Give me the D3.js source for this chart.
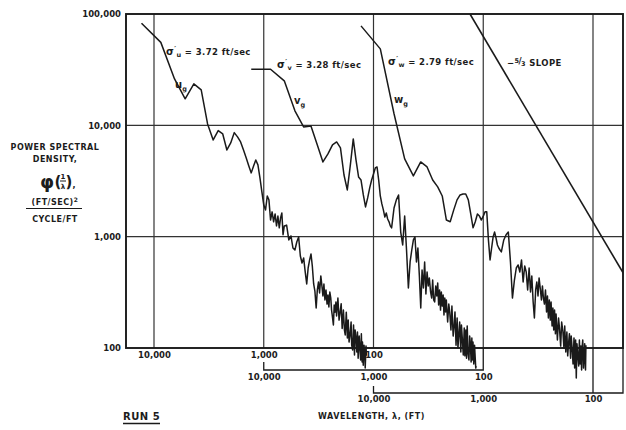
<!DOCTYPE html>
<html>
<head>
<meta charset="utf-8">
<script src="https://cdn.jsdelivr.net/npm/d3@7"></script>
<style>
  html, body { margin: 0; padding: 0; background: #ffffff; }
  svg { display: block; }
  text { font-family: "DejaVu Sans", "Liberation Sans", sans-serif; font-weight: bold; fill: #1c1c1c; }
</style>
</head>
<body>
<svg id="chart" width="626" height="430"></svg>
<script>
// Spectral estimates share one wavelength grid (ft); each gust component has its own abscissa,
// offset by one decade from the previous one.
const wavelengthFt = [
  13000, 8667, 6500, 5200, 4333, 3714, 3250, 2889, 2600, 2364,
  2167, 2000, 1857, 1733, 1625, 1529, 1444, 1368, 1300, 1238,
  1182, 1130, 1083, 1040, 1000, 963, 929, 897, 867, 839,
  813, 788, 765, 743, 722, 703, 684, 667, 650,
  619, 591, 565, 542, 520, 500, 481, 464, 448, 433,
  419, 406, 394, 382, 371, 361, 351, 342, 333, 325,
  317, 310, 302, 295, 289, 283, 277, 271, 265, 260,
  255, 250, 245, 241, 236, 232, 228, 224, 220, 217,
  211, 206, 202, 197, 193, 188, 184, 181, 177, 173,
  170, 167, 164, 160, 158, 155, 152, 149, 147, 144,
  142, 140, 138, 135, 133, 131, 129, 127, 126, 124,
  122, 120, 119, 117, 116
];

// Power spectral density, (ft/sec)^2 / (cycle/ft)
const psdU = [
  82700, 55600, 26100, 17300, 23600, 20800, 10300, 7390, 8960, 8370,
  6010, 6950, 8600, 7870, 7090, 6010, 5090, 4320, 3740, 4320,
  4890, 4410, 3370, 2520, 1930, 1740, 2320, 2140, 1410, 1670,
  1360, 1600, 1250, 1530, 1200, 1470, 1630, 1040, 1250,
  1270, 934, 1015, 791, 759, 896, 994, 671, 580, 644,
  482, 376, 523, 618, 699, 545, 376, 325, 229, 332,
  392, 312, 444, 360, 293, 376, 270, 332, 248, 299,
  234, 318, 280, 219, 186, 161, 243, 210, 259, 194,
  281, 178, 205, 250, 150, 219, 145, 131, 210, 123,
  178, 113, 128, 171, 106, 96, 161, 86.5, 145, 120,
  92, 139, 81, 128, 100, 78, 134, 75, 113, 70,
  106, 88, 66, 104, 85
];

const psdV = [
  31900, 31900, 25100, 13500, 9680, 9880, 6670, 4690, 5540, 6670,
  7090, 6270, 3580, 2630, 4410, 7550, 4890, 3440, 3230, 2370,
  1850, 2230, 2740, 3230, 3660, 4140, 4230, 3230, 2320, 1970,
  1740, 1500, 1630, 1440, 1360, 1250, 1200, 1470, 1810,
  2140, 2370, 1100, 842, 1530, 759, 346, 593, 759, 934,
  994, 593, 791, 444, 229, 502, 346, 593, 306, 482,
  361, 426, 320, 281, 408, 270, 259, 361, 293, 384,
  243, 332, 219, 318, 238, 299, 198, 281, 211, 270,
  171, 248, 210, 145, 238, 128, 160, 211, 106, 186,
  100, 130, 171, 92, 161, 120, 86.5, 151, 85, 145,
  81, 158, 92, 78, 128, 110, 75, 123, 78, 113,
  71.8, 106, 90, 66, 68.9
];

const psdW = [
  78200, 48600, 12700, 4990, 3510, 4690, 4230, 3230, 2800, 2320,
  1410, 1360, 1740, 2140, 2370, 2420, 2420, 2140, 1600, 1200,
  1360, 1600, 1530, 1410, 1530, 1670, 1670, 934, 618, 791,
  994, 1100, 973, 842, 791, 759, 729, 825, 934,
  1040, 1100, 593, 281, 408, 523, 557, 482, 618, 392,
  545, 482, 332, 523, 318, 444, 259, 186, 332, 392,
  293, 426, 340, 270, 361, 281, 248, 332, 211, 293,
  186, 270, 178, 259, 158, 229, 145, 219, 134, 202,
  118, 186, 150, 104, 171, 140, 100, 158, 92, 139,
  85, 110, 134, 81, 128, 100, 71.8, 123, 66, 118,
  53.8, 109, 90, 68.9, 118, 71.8, 104, 63.4, 98, 118,
  66, 88, 109, 63.4, 106
];

// Reference -5/3 power law, in the w-component wavelength units
const slopeWavelength = [1320, 50];
const slopePsd = [100000, 427];

const sigmaValues = ["3.72", "3.28", "2.79"];
const componentNames = ["u", "v", "w"];
const yTickValues = [100, 1000, 10000, 100000];
const xTickValues1 = [10000, 1000, 100];
const xTickValues2 = [10000, 1000, 100];
const xTickValues3 = [10000, 1000, 100];

// ---------------------------------------------------------------------------
const svg = d3.select("#chart");
const ink = "#1a1a1a";
const frame = { left: 126, right: 623, top: 14, bottom: 348 };

const y = d3.scaleLog().domain([100, 100000]).range([348, 14]);
const xU = d3.scaleLog().domain([1e4, 1]).range([154, 593]);
const xV = d3.scaleLog().domain([1e5, 10]).range([154, 593]);
const xW = d3.scaleLog().domain([1e6, 100]).range([154, 593]);
const fmt = d3.format(",");

// grid
const grid = svg.append("g").attr("stroke", "#333").attr("stroke-width", 1.2);
grid.selectAll("line.v").data([10000, 1000, 100, 10, 1]).join("line")
  .attr("x1", d => xU(d)).attr("x2", d => xU(d))
  .attr("y1", frame.top).attr("y2", frame.bottom);
grid.selectAll("line.h").data([1000, 10000]).join("line")
  .attr("x1", frame.left).attr("x2", frame.right)
  .attr("y1", d => y(d)).attr("y2", d => y(d));

// frame
svg.append("rect")
  .attr("x", frame.left).attr("y", frame.top)
  .attr("width", frame.right - frame.left).attr("height", frame.bottom - frame.top)
  .attr("fill", "none").attr("stroke", ink).attr("stroke-width", 1.9);

// y axis
const yAxis = svg.append("g").attr("transform", `translate(${frame.left},0)`)
  .call(d3.axisLeft(y).tickValues(yTickValues).tickFormat(fmt).tickSize(0).tickPadding(5));
yAxis.select(".domain").remove();
yAxis.selectAll("text").attr("font-size", 8.5).attr("font-family", null);

// x axes: three staggered scales
function xAxis(scale, ticks, yPos, pad) {
  const g = svg.append("g").attr("transform", `translate(0,${yPos})`)
    .call(d3.axisBottom(scale).tickValues(ticks).tickFormat(fmt).tickSize(0).tickPadding(pad));
  g.select(".domain").remove();
  g.selectAll("text").attr("font-size", 8.5).attr("font-family", null);
  return g;
}
xAxis(xU, xTickValues1, frame.bottom, 4);
xAxis(xV, xTickValues2, 370, 4);
xAxis(xW, xTickValues3, 393, 3);

const brackets = svg.append("g").attr("stroke", ink).attr("stroke-width", 1.3).attr("fill", "none");
// second axis bracket
brackets.append("path").attr("d",
  `M${xV(1e4)},362 V370 H${xV(100)} V${frame.bottom}`);
// third axis bracket
brackets.append("path").attr("d",
  `M${xW(1e4)},386 V393 H${frame.right} V${frame.bottom}`);
brackets.append("line")
  .attr("x1", xW(100)).attr("x2", xW(100)).attr("y1", frame.bottom).attr("y2", 393);

// spectra
const series = [
  { psd: psdU, x: xU },
  { psd: psdV, x: xV },
  { psd: psdW, x: xW }
];
series.forEach(s => {
  const pts = wavelengthFt.map((wl, i) => [s.x(wl), y(s.psd[i])]);
  svg.append("path")
    .attr("d", d3.line()(pts))
    .attr("fill", "none").attr("stroke", ink)
    .attr("stroke-width", 1.5).attr("stroke-linejoin", "round");
});

// -5/3 slope line, clipped to the frame
svg.append("clipPath").attr("id", "frameClip").append("rect")
  .attr("x", frame.left).attr("y", frame.top)
  .attr("width", frame.right - frame.left).attr("height", frame.bottom - frame.top);
svg.append("path")
  .attr("clip-path", "url(#frameClip)")
  .attr("d", d3.line()(slopeWavelength.map((wl, i) => [xW(wl), y(slopePsd[i])])))
  .attr("fill", "none").attr("stroke", ink).attr("stroke-width", 1.6);

// sigma annotations
function sigmaLabel(x, yb, sub, value) {
  const t = svg.append("text").attr("x", x).attr("y", yb).attr("font-size", 8.5).attr("letter-spacing", 0.4);
  t.append("tspan").attr("font-size", 10).text("σ");
  t.append("tspan").attr("font-size", 7).attr("dy", -4).text("′");
  t.append("tspan").attr("font-size", 6.5).attr("dy", 6).text(sub);
  t.append("tspan").attr("dy", -2).text(" = " + value + " ft/sec");
}
sigmaLabel(166, 55, componentNames[0], sigmaValues[0]);
sigmaLabel(277, 68, componentNames[1], sigmaValues[1]);
sigmaLabel(388, 65, componentNames[2], sigmaValues[2]);

function gustLabel(x, yb, name) {
  const t = svg.append("text").attr("x", x).attr("y", yb).attr("font-size", 10);
  t.append("tspan").text(name);
  t.append("tspan").attr("font-size", 6.5).attr("dy", 3).text("g");
}
gustLabel(175, 88, componentNames[0]);
gustLabel(294, 104, componentNames[1]);
gustLabel(394, 103, componentNames[2]);

// slope label
const sl = svg.append("text").attr("x", 507).attr("y", 66).attr("font-size", 8.5).attr("letter-spacing", 0.4);
sl.append("tspan").text("−");
sl.append("tspan").attr("font-size", 6.5).attr("dy", -3).text("5");
sl.append("tspan").attr("font-size", 8.5).attr("dy", 1).attr("dx", -1).text("/");
sl.append("tspan").attr("font-size", 6.5).attr("dy", 2).attr("dx", -1).text("3");
sl.append("tspan").attr("dy", 0).text(" SLOPE");

// y title block
const cx = 55;
const title = svg.append("g").attr("text-anchor", "middle");
title.append("text").attr("x", cx).attr("y", 150).attr("font-size", 8).attr("letter-spacing", 0.5).text("POWER SPECTRAL");
title.append("text").attr("x", cx).attr("y", 162).attr("font-size", 8).attr("letter-spacing", 0.5).text("DENSITY,");
title.append("text").attr("x", 47).attr("y", 188).attr("font-size", 18).attr("font-weight", "normal").text("φ");
title.append("text").attr("x", 58).attr("y", 187).attr("font-size", 15).attr("font-weight", "normal").text("(");
title.append("text").attr("x", 63).attr("y", 179).attr("font-size", 7).text("1");
title.append("line").attr("x1", 60).attr("x2", 66).attr("y1", 181).attr("y2", 181).attr("stroke", ink).attr("stroke-width", 1);
title.append("text").attr("x", 63).attr("y", 189).attr("font-size", 7).text("λ");
title.append("text").attr("x", 69).attr("y", 187).attr("font-size", 15).attr("font-weight", "normal").text(")");
title.append("text").attr("x", 74).attr("y", 188).attr("font-size", 8).text(",");
const unit = title.append("text").attr("x", cx).attr("y", 205).attr("font-size", 8).attr("letter-spacing", 0.5);
unit.append("tspan").text("(FT/SEC)");
unit.append("tspan").attr("font-size", 6).attr("dy", -3).text("2");
title.append("line").attr("x1", 26).attr("x2", 82).attr("y1", 208.5).attr("y2", 208.5).attr("stroke", ink).attr("stroke-width", 1.2);
title.append("text").attr("x", cx).attr("y", 222).attr("font-size", 8).attr("letter-spacing", 0.5).text("CYCLE/FT");

// x title and run label
svg.append("text").attr("x", 318).attr("y", 419).attr("font-size", 8).attr("letter-spacing", 0.55).text("WAVELENGTH, λ, (FT)");
svg.append("text").attr("x", 123).attr("y", 420).attr("font-size", 10).attr("letter-spacing", 0.5).text("RUN 5");
svg.append("line").attr("x1", 123).attr("x2", 160).attr("y1", 423.5).attr("y2", 423.5).attr("stroke", ink).attr("stroke-width", 1.4);
</script>
</body>
</html>
